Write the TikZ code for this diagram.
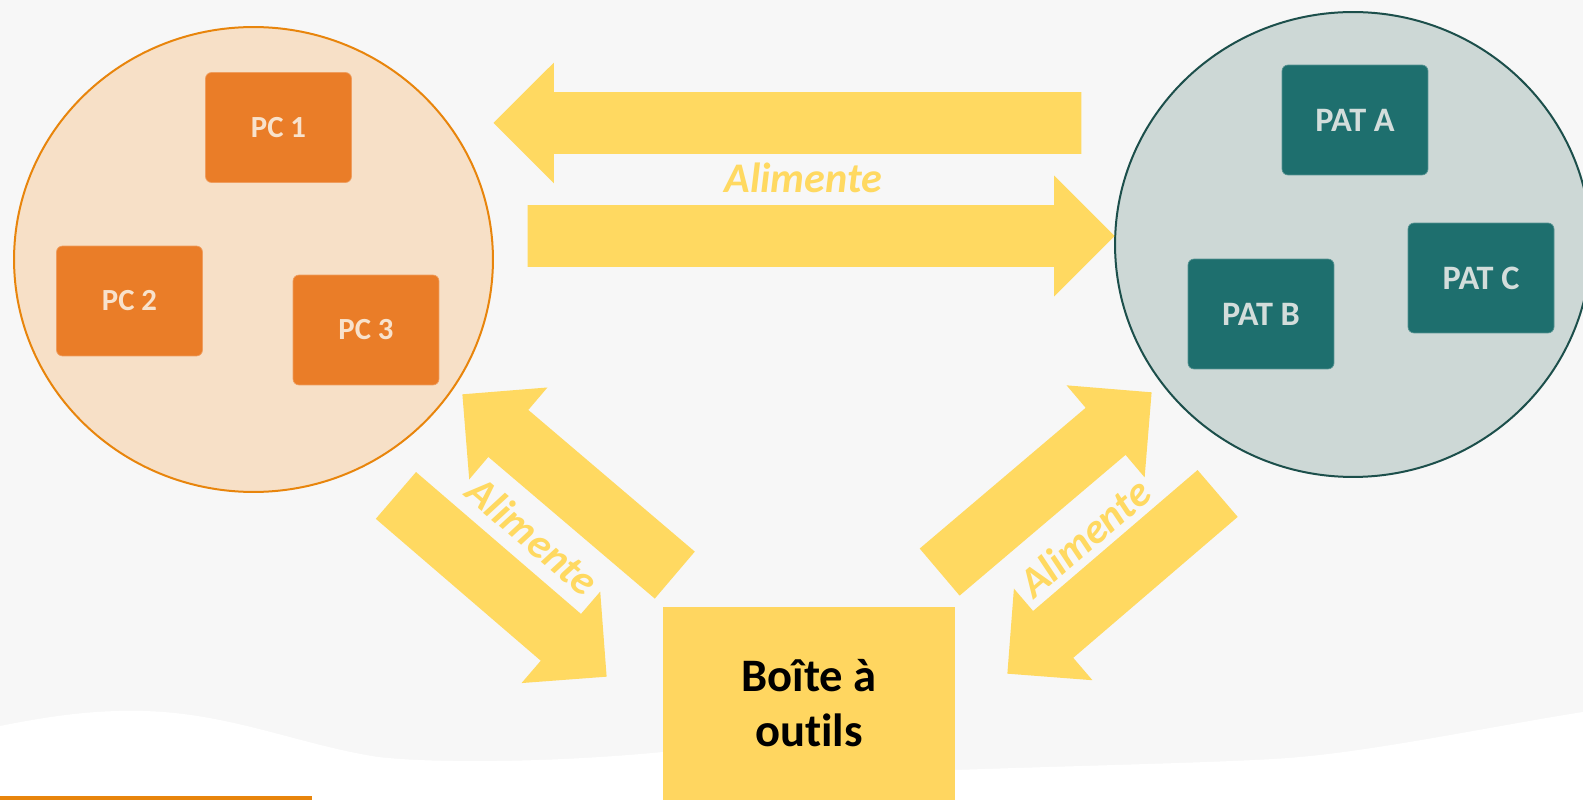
\documentclass[tikz,border=0pt]{standalone}
\usepackage{fontspec}
\setmainfont{Carlito}[Ligatures=NoCommon]
\usepackage{xcolor}
\usepackage{tikz}
\usetikzlibrary{shapes.geometric, shapes.arrows}

\definecolor{fond}{HTML}{F7F7F7}
\definecolor{jaune}{HTML}{FFD961}
\definecolor{jauneboite}{HTML}{FFD660}
\definecolor{orangePC}{HTML}{EA7D28}
\definecolor{peche}{HTML}{F7E0C7}
\definecolor{bordPC}{HTML}{E8850C}
\definecolor{textePC}{HTML}{F8E2CC}
\definecolor{sarcelle}{HTML}{1E6F6E}
\definecolor{grisbleu}{HTML}{CDD8D6}
\definecolor{bordPAT}{HTML}{1C4F4B}
\definecolor{textePAT}{HTML}{D3DDDB}

\begin{document}
\begin{tikzpicture}[
      x = 0.02cm, y = -0.02cm,
      poste/.style  = {rectangle, rounded corners=0.12cm, minimum width=2.92cm, minimum height=2.2cm, thin},
      pc/.style     = {poste, fill=orangePC, draw=orangePC!75!white, text=textePC, font=\bfseries\fontsize{17.5}{20}\selectfont},
      pat/.style    = {poste, fill=sarcelle, draw=sarcelle!75!white, text=textePAT, font=\bfseries\fontsize{19.5}{22}\selectfont},
      groupe/.style = {ellipse, line width=0.04cm, inner sep=0pt},
      fleche/.style = {single arrow, fill=jaune, inner xsep=0pt, inner ysep=0.61cm, single arrow head extend=0.59cm, anchor=tip},
      verbe/.style  = {text=jaune, inner sep=0pt, font=\bfseries\itshape\fontsize{24}{28}\selectfont}
   ]
   \useasboundingbox (0,0) rectangle (1583,800);
   \clip (0,0) rectangle (1583,800);

   % fond gris et vague blanche en bas
   \fill[fond] (0,0) rectangle (1583,800);
   \fill[white] (0,726) .. controls (60,714) and (100,710) .. (143,711)
         .. controls (230,713) and (300,745) .. (378,757)
         .. controls (440,764) and (560,762) .. (663,752)
         -- (955,770) .. controls (1100,765) and (1250,762) .. (1300,757)
         .. controls (1380,750) and (1500,725) .. (1583,712)
         -- (1583,800) -- (0,800) -- cycle;
   \fill[bordPC] (0,796) rectangle (312,800);

   % les deux groupes
   \node[groupe, draw=bordPC, fill=peche, minimum width=9.58cm, minimum height=9.3cm] (groupePC) at (253.5,259.5) {};
   \node[groupe, draw=bordPAT, fill=grisbleu, minimum width=9.52cm, minimum height=9.3cm] (groupePAT) at (1353,244.5) {};

   \node[pc] (pc1) at (278.5,127.5) {PC 1};
   \node[pc] (pc2) at (129.5,301)   {PC 2};
   \node[pc] (pc3) at (366,330)     {PC 3};

   \node[pat] (patA) at (1355,120) {PAT A};
   \node[pat] (patB) at (1261,314) {PAT B};
   \node[pat] (patC) at (1481,278) {PAT C};

   % fleches "Alimente"
   \node[fleche, minimum height=11.76cm, rotate=180]   (versPC)       at (493,123)  {};
   \node[fleche, minimum height=11.74cm]               (versPAT)      at (1115,236) {};
   \node[fleche, minimum height=5.58cm, rotate=139.6]  (boiteVersPC)  at (462,394)  {};
   \node[fleche, minimum height=5.56cm, rotate=-40.7]  (pcVersBoite)  at (607,677)  {};
   \node[fleche, minimum height=5.56cm, rotate=40.3]   (boiteVersPAT) at (1152,392) {};
   \node[fleche, minimum height=5.54cm, rotate=220.6]  (patVersBoite) at (1007,674) {};

   \node[verbe]              (alimHaut) at (803.5,178)   {Alimente};
   \node[verbe, rotate=-40.5] (alimG)   at (533,536)     {Alimente};
   \node[verbe, rotate=40.5]  (alimD)   at (1084.5,537.5) {Alimente};

   % boite a outils
   \node[fill=jauneboite, minimum width=5.84cm, minimum height=3.86cm, align=center,
         font=\bfseries\fontsize{26.5}{31.3}\selectfont] (boite) at (809,703.5) {Boîte à\\outils};
\end{tikzpicture}
\end{document}
